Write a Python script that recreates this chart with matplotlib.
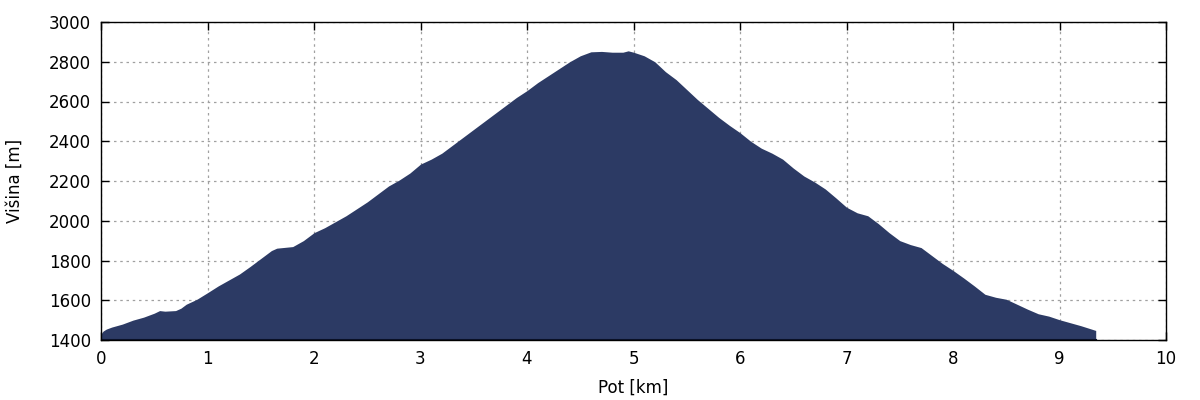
import matplotlib
matplotlib.use("Agg")
import matplotlib.pyplot as plt

# elevation profile
pot_km = [0.0, 0.02, 0.05, 0.1, 0.2, 0.3, 0.4, 0.5, 0.55, 0.6, 0.7, 0.75, 0.8, 0.9,
          1.0, 1.1, 1.2, 1.3, 1.4, 1.5, 1.6, 1.65, 1.8, 1.9, 2.0, 2.1, 2.2, 2.3,
          2.4, 2.5, 2.6, 2.7, 2.8, 2.9, 3.0, 3.1, 3.2, 3.3, 3.4, 3.5, 3.6, 3.7,
          3.8, 3.9, 4.0, 4.1, 4.2, 4.3, 4.4, 4.5, 4.6, 4.7, 4.8, 4.9, 4.95, 5.0,
          5.1, 5.2, 5.3, 5.4, 5.5, 5.6, 5.7, 5.8, 5.9, 6.0, 6.1, 6.2, 6.3, 6.4,
          6.5, 6.6, 6.7, 6.8, 6.9, 7.0, 7.1, 7.2, 7.3, 7.4, 7.5, 7.6, 7.7, 7.8,
          7.9, 8.0, 8.1, 8.2, 8.3, 8.4, 8.5, 8.6, 8.7, 8.8, 8.9, 9.0, 9.1, 9.2,
          9.3, 9.34]
visina_m = [1430, 1445, 1455, 1465, 1480, 1500, 1515, 1535, 1548, 1545, 1548, 1560,
            1580, 1605, 1638, 1672, 1702, 1732, 1770, 1810, 1850, 1862, 1870, 1900,
            1940, 1965, 1995, 2025, 2060, 2095, 2135, 2175, 2205, 2240, 2285, 2310,
            2340, 2380, 2420, 2460, 2500, 2540, 2580, 2620, 2655, 2695, 2730, 2765,
            2800, 2830, 2850, 2852, 2848, 2848, 2855, 2848, 2830, 2800, 2750, 2710,
            2660, 2610, 2565, 2520, 2480, 2443, 2400, 2365, 2340, 2310, 2265, 2225,
            2195, 2160, 2115, 2068, 2040, 2025, 1985, 1940, 1900, 1880, 1865, 1825,
            1785, 1750, 1712, 1672, 1630, 1615, 1605, 1580, 1555, 1532, 1520, 1502,
            1487, 1472, 1455, 1448]

x_ticks = list(range(0, 11))
y_ticks = list(range(1400, 3001, 200))

fig = plt.figure(figsize=(12, 4), dpi=100)
ax = fig.add_axes([101 / 1200, 60 / 400, 1065 / 1200, 318 / 400])

ax.fill_between(pot_km, 1400, visina_m, color="#2c3a64", linewidth=0)
ax.plot([pot_km[0], pot_km[-1]], [1400, 1400], color="#0d1530", linewidth=1.5)

ax.set_xlim(0, 10)
ax.set_ylim(1400, 3000)
ax.set_xticks(x_ticks)
ax.set_yticks(y_ticks)
ax.grid(True, color="#a0a0a0", linestyle=(0, (2, 3)), linewidth=0.9)
ax.set_axisbelow(True)
ax.tick_params(direction="in", top=True, right=True, length=6, width=1,
               labelsize=12, pad=7)
for sp in ax.spines.values():
    sp.set_linewidth(1)

ax.set_xlabel("Pot [km]", fontsize=12, labelpad=8)
ax.set_ylabel("Višina [m]", fontsize=12, labelpad=18)

fig.savefig("out.png", dpi=100)
